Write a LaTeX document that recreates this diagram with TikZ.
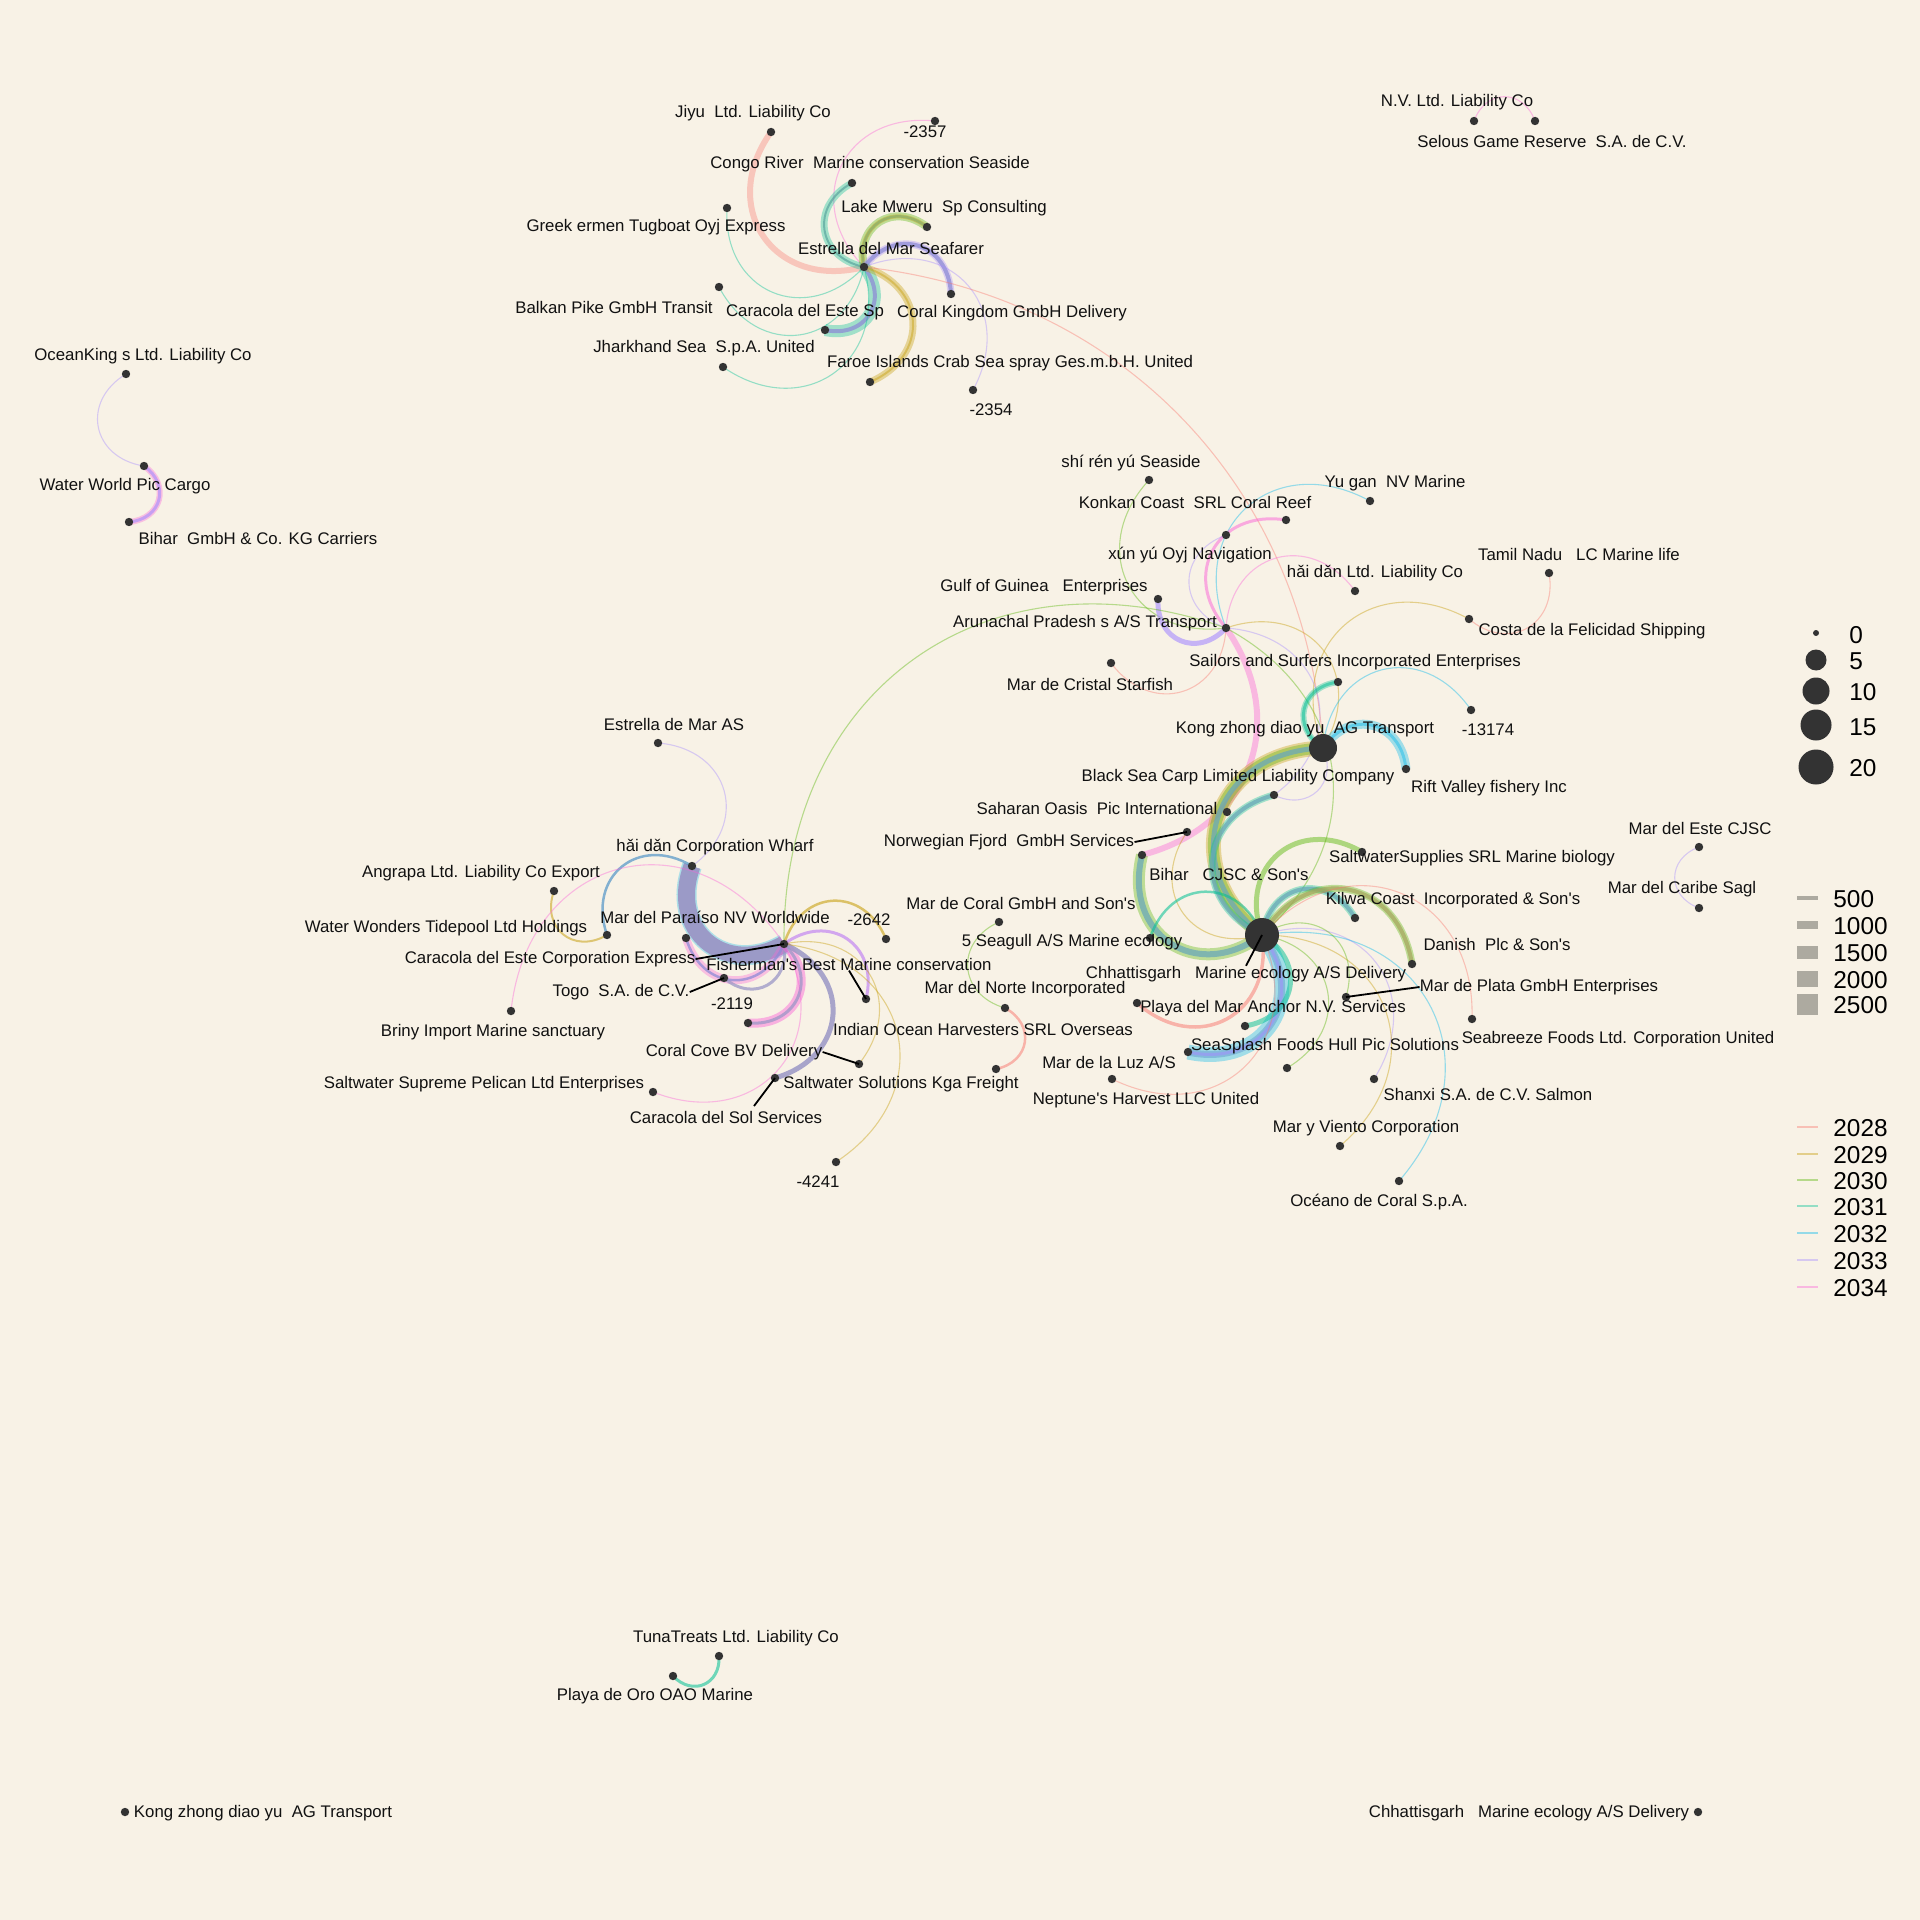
\documentclass[tikz,border=0pt]{standalone}
\usepackage{fontspec}
\newfontfamily\lbf{Liberation Sans}
\definecolor{bg}{HTML}{F8F2E6}
\definecolor{dotc}{HTML}{333333}
\definecolor{txt}{HTML}{111111}
\definecolor{c28}{HTML}{F8766D}
\definecolor{c29}{HTML}{C49A00}
\definecolor{c30}{HTML}{53B400}
\definecolor{c31}{HTML}{00C094}
\definecolor{c32}{HTML}{00B6EB}
\definecolor{c33}{HTML}{A58AFF}
\definecolor{c34}{HTML}{FB61D7}
\definecolor{wgrey}{HTML}{ADAAA0}
\definecolor{tealcore}{HTML}{5FA8A0}
\definecolor{purpcore}{HTML}{8E8CD6}
\definecolor{olivecore}{HTML}{A8A860}
\definecolor{greencore}{HTML}{8EAE6A}
\definecolor{bluecore}{HTML}{7AB0D8}
\definecolor{fishband}{HTML}{9B97C6}
\definecolor{tbcore}{HTML}{6AA8B8}
\begin{document}
\begin{tikzpicture}[x=0.5pt,y=-0.5pt,
  arcb/.style={bend left=70, looseness=1.45},
  arcs/.style={bend left=55, looseness=1.2},
  arcf/.style={bend left=40, looseness=1.0},
  th/.style={line width=0.55pt, draw opacity=0.4},
  halo/.style={line width=#1*0.5pt, draw opacity=0.35},
  core/.style={line width=#1*0.5pt, draw opacity=0.75},
  dotn/.style={circle, fill=dotc, inner sep=0pt, minimum size=4.2pt},
  lbl/.style={font=\lbf\fontsize{8.4}{10}\selectfont, text=txt, inner sep=0pt},
  leg/.style={font=\lbf\fontsize{12.2}{14}\selectfont, text=black, anchor=west, inner sep=0pt},
  leader/.style={draw=black, line width=0.9pt},
  legbar/.style={line width=0.75pt, draw opacity=0.4}]
\fill[bg] (0,0) rectangle (1920,1920);
\useasboundingbox (0,0) rectangle (1920,1920);
% ---------- coordinates ----------
\coordinate (Jiyu) at (771,132);
\coordinate (m2357) at (935,121);
\coordinate (Congo) at (852,183);
\coordinate (Greek) at (727,208);
\coordinate (Lake) at (927,227);
\coordinate (E) at (864,267);
\coordinate (CoralK) at (951,294);
\coordinate (Balkan) at (719,287);
\coordinate (CaraSp) at (825,330);
\coordinate (Jhar) at (723,367);
\coordinate (Faroe) at (870,382);
\coordinate (m2354) at (973,390);
\coordinate (Ocean) at (126,374);
\coordinate (WW) at (144,466);
\coordinate (BiharG) at (129,522);
\coordinate (NV) at (1474,121);
\coordinate (Selous) at (1535,121);
\coordinate (Tuna) at (719,1656);
\coordinate (PlayaOro) at (673,1676);
\coordinate (KongIso) at (125,1812);
\coordinate (ChhIso) at (1698,1812);
\coordinate (Shi) at (1149,480);
\coordinate (Yugan) at (1370,501);
\coordinate (Konkan) at (1286,520);
\coordinate (Xun) at (1226,535);
\coordinate (HaiLtd) at (1355,591);
\coordinate (Tamil) at (1549,573);
\coordinate (Gulf) at (1158,599);
\coordinate (A) at (1226,628);
\coordinate (Costa) at (1469,619);
\coordinate (Cristal) at (1111,663);
\coordinate (Sailors) at (1338,682);
\coordinate (m13174) at (1471,710);
\coordinate (K) at (1323,748);
\coordinate (Rift) at (1406,769);
\coordinate (BSC) at (1274,795);
\coordinate (Saharan) at (1227,812);
\coordinate (Norw) at (1187,832);
\coordinate (BiharC) at (1142,855);
\coordinate (SWS) at (1362,852);
\coordinate (Este) at (1699,847);
\coordinate (Caribe) at (1699,908);
\coordinate (Kilwa) at (1355,918);
\coordinate (MdCoral) at (999,922);
\coordinate (Seagull) at (1150,938);
\coordinate (M) at (1262,935);
\coordinate (Danish) at (1412,964);
\coordinate (Plata) at (1346,997);
\coordinate (MdNorte) at (1005,1008);
\coordinate (PlayaMar) at (1137,1003);
\coordinate (Seabreeze) at (1472,1019);
\coordinate (SeaSplash) at (1245,1026);
\coordinate (Luz) at (1188,1052);
\coordinate (Neptune) at (1112,1079);
\coordinate (D1287) at (1287,1068);
\coordinate (Shanxi) at (1374,1079);
\coordinate (Viento) at (1340,1146);
\coordinate (Oceano) at (1399,1181);
\coordinate (SWSol) at (996,1069);
\coordinate (EdM) at (658,743);
\coordinate (Wharf) at (692,866);
\coordinate (Angrapa) at (554,891);
\coordinate (WW2) at (607,935);
\coordinate (Paraiso) at (686,938);
\coordinate (m2642) at (886,939);
\coordinate (F) at (784,944);
\coordinate (Togo) at (724,978);
\coordinate (Fisher) at (866,999);
\coordinate (Briny) at (511,1011);
\coordinate (D2119) at (748,1023);
\coordinate (CoralCove) at (859,1064);
\coordinate (SSup) at (653,1092);
\coordinate (CdS) at (775,1078);
\coordinate (m4241) at (836,1162);
% ---------- edges: top cluster ----------
\draw[halo=6, draw=c28] (E) to[arcb] (Jiyu);
\draw[th, draw=c34] (E) to[arcb] (m2357);
\draw[halo=7, draw=c31] (E) to[arcb] (Congo);
\draw[core=2, draw=tealcore] (E) to[arcb] (Congo);
\draw[th, draw=c31] (E) to[arcb] (Greek);
\draw[halo=8, draw=c30] (E) to[arcb] (Lake);
\draw[halo=4, draw=c29] (E) to[arcb] (Lake);
\draw[core=2.5, draw=greencore] (E) to[arcb] (Lake);
\draw[halo=7, draw=c33] (E) to[arcb] (CoralK);
\draw[core=4, draw=purpcore] (E) to[arcb] (CoralK);
\draw[th, draw=c31] (E) to[arcb] (Balkan);
\draw[halo=12, draw=c31] (E) to[arcb] (CaraSp);
\draw[core=4, draw=purpcore] (E) to[arcb] (CaraSp);
\draw[th, draw=c31] (E) to[arcb] (Jhar);
\draw[halo=7, draw=c29] (E) to[arcb] (Faroe);
\draw[core=2, draw=c29, draw opacity=0.4] (E) to[arcb] (Faroe);
\draw[th, draw=c33] (E) to[arcb] (m2354);
\draw[th, draw=c28] (E) to[arcf] (K);
% ---------- isolated pairs ----------
\draw[th, draw=c33] (WW) to[arcb] (Ocean);
\draw[halo=6, draw=c34] (WW) to[arcb] (BiharG);
\draw[core=3, draw=c33, draw opacity=0.6] (WW) to[arcb] (BiharG);
\draw[th, draw=c34] (NV) to[arcb] (Selous);
\draw[core=3, draw=c31, draw opacity=0.55] (Tuna) to[arcb] (PlayaOro);
% ---------- Arunachal hub ----------
\draw[th, draw=c30] (A) to[arcb] (Shi);
\draw[th, draw=c32] (A) to[arcb] (Yugan);
\draw[halo=3, draw=c34, draw opacity=0.5] (A) to[arcb] (Konkan);
\draw[th, draw=c33] (A) to[arcb] (Xun);
\draw[th, draw=c34] (A) to[arcb] (HaiLtd);
\draw[halo=5, draw=c33, draw opacity=0.6] (A) to[arcb] (Gulf);
\draw[th, draw=c28] (A) to[arcb] (Cristal);
\draw[th, draw=c30] (F) to[arcs] (A);
\draw[halo=6, draw=c34, draw opacity=0.4] (A) to[arcs] (BiharC);
\draw[th, draw=c33] (A) to[arcb] (BSC);
\draw[th, draw=c30] (A) to[arcs] (M);
\draw[th, draw=c29] (A) to[arcb] (K);
\draw[th, draw=c28] (Tamil) to[arcb] (Costa);
\draw[th, draw=c29] (K) to[arcb] (Costa);
% ---------- Kong zhong hub ----------
\draw[halo=6, draw=c31] (K) to[arcb] (Sailors);
\draw[core=3, draw=c31, draw opacity=0.5] (K) to[arcb] (Sailors);
\draw[th, draw=c32] (K) to[arcb] (m13174);
\draw[halo=9, draw=c32] (K) to[arcb] (Rift);
\draw[core=3, draw=c32, draw opacity=0.4] (K) to[arcb] (Rift);
\draw[th, draw=c33] (K) to[arcb] (BSC);
\draw[halo=15, draw=c29] (M) to[arcb] (K);
\draw[halo=11, draw=c30] (M) to[arcb] (K);
\draw[core=5, draw=tbcore] (M) to[arcb] (K);
% ---------- Marine ecology hub ----------
\draw[halo=12, draw=c30] (M) to[arcb] (BiharC);
\draw[core=6, draw=tbcore] (M) to[arcb] (BiharC);
\draw[halo=7, draw=c31] (M) to[arcb] (BSC);
\draw[core=4, draw=tbcore] (M) to[arcb] (BSC);
\draw[halo=5, draw=c30, draw opacity=0.45] (M) to[arcb] (SWS);
\draw[halo=7, draw=c31] (M) to[arcb] (Kilwa);
\draw[core=4, draw=tbcore] (M) to[arcb] (Kilwa);
\draw[halo=7, draw=c30] (M) to[arcb] (Danish);
\draw[core=4, draw=olivecore] (M) to[arcb] (Danish);
\draw[th, draw=c30] (MdNorte) to[arcb] (MdCoral);
\draw[halo=2.5, draw=c28, draw opacity=0.5] (MdNorte) to[arcb] (SWSol);
\draw[halo=3.5, draw=c28, draw opacity=0.5] (M) to[arcb] (PlayaMar);
\draw[halo=15, draw=c32] (M) to[arcb] (Luz);
\draw[core=7, draw=bluecore] (M) to[arcb] (Luz);
\draw[core=3, draw=c33, draw opacity=0.5] (M) to[arcb] (Luz);
\draw[halo=5, draw=c31, draw opacity=0.5] (M) to[arcb] (SeaSplash);
\draw[th, draw=c30] (M) to[arcb] (D1287);
\draw[th, draw=c33] (M) to[arcb] (Shanxi);
\draw[th, draw=c29] (M) to[arcb] (Viento);
\draw[th, draw=c32] (M) to[arcb] (Oceano);
\draw[th, draw=c28] (M) to[arcb] (Seabreeze);
\draw[th, draw=c30] (M) to[arcb] (Plata);
\draw[th, draw=c28] (M) to[arcb] (Neptune);
\draw[th, draw=c29] (M) to[arcb] (Norw);
\draw[halo=2.5, draw=c31, draw opacity=0.55] (Seagull) to[arcb] (M);
\draw[th, draw=c33] (Caribe) to[arcb] (Este);
% ---------- left cluster ----------
\draw[halo=20, draw=c32, draw opacity=0.3] (F) to[arcb] (Wharf);
\draw[core=17, draw=fishband, draw opacity=0.95] (F) to[arcb] (Wharf);
\draw[th, draw=c33] (EdM) to[arcb] (Wharf);
\draw[core=2.5, draw=c32!60!c33!80!black, draw opacity=0.6] (WW2) to[arcb] (Wharf);
\draw[halo=2, draw=c29, draw opacity=0.5] (WW2) to[arcb] (Angrapa);
\draw[halo=8, draw=c34] (F) to[arcb] (Paraiso);
\draw[core=2.5, draw=purpcore] (F) to[arcb] (Paraiso);
\draw[core=3, draw=fishband] (F) to[arcb] (Togo);
\draw[halo=9, draw=c34, draw opacity=0.45] (F) to[arcb] (D2119);
\draw[core=3, draw=fishband] (F) to[arcb] (D2119);
\draw[core=5, draw=fishband, draw opacity=0.85] (F) to[arcb] (CdS);
\draw[core=3, draw=c33!70!c34, draw opacity=0.65] (F) to[arcb] (Fisher);
\draw[core=2.5, draw=c29, draw opacity=0.55] (F) to[arcb] (m2642);
\draw[th, draw=c29] (F) to[arcb] (CoralCove);
\draw[th, draw=c29] (F) to[arcb] (m4241);
\draw[th, draw=c34] (Briny) to[arcb] (F);
\draw[th, draw=c34] (F) to[arcb] (SSup);
\coordinate (cdsl) at (754,1106);
% ---------- dots ----------
\foreach \n in {Jiyu,m2357,Congo,Greek,Lake,E,CoralK,Balkan,CaraSp,Jhar,Faroe,m2354,
  Ocean,WW,BiharG,NV,Selous,Tuna,PlayaOro,KongIso,ChhIso,
  Shi,Yugan,Konkan,Xun,HaiLtd,Tamil,Gulf,A,Costa,Cristal,Sailors,m13174,Rift,BSC,Saharan,
  Norw,BiharC,SWS,Este,Caribe,Kilwa,MdCoral,Seagull,Danish,Plata,MdNorte,PlayaMar,
  Seabreeze,SeaSplash,Luz,Neptune,D1287,Shanxi,Viento,Oceano,SWSol,
  EdM,Wharf,Angrapa,WW2,Paraiso,m2642,F,Togo,Fisher,Briny,D2119,CoralCove,SSup,CdS,m4241}
  {\node[dotn] (\n-d) at (\n) {};}
\node[dotn, minimum size=14pt] (K-d) at (K) {};
\node[dotn, minimum size=17pt] (M-d) at (M) {};
% ---------- labels ----------
\node[lbl] (Jiyu-l) at (753,113) {Jiyu~~Ltd. Liability Co};
\node[lbl] (m2357-l) at (925,132) {-2357};
\node[lbl] (Congo-l) at (870,164) {Congo River~~Marine conservation Seaside};
\node[lbl] (Greek-l) at (656,227) {Greek ermen Tugboat Oyj Express};
\node[lbl] (Lake-l) at (944,208) {Lake Mweru~~Sp Consulting};
\node[lbl] (E-l) at (891,248) {Estrella del Mar Seafarer};
\node[lbl] (CoralK-l) at (1012,313) {Coral Kingdom GmbH Delivery};
\node[lbl] (Balkan-l) at (614,307) {Balkan Pike GmbH Transit};
\node[lbl] (CaraSp-l) at (805,312) {Caracola del Este Sp};
\node[lbl] (Jhar-l) at (704,348) {Jharkhand Sea~~S.p.A. United};
\node[lbl] (Faroe-l) at (1010,363) {Faroe Islands Crab Sea spray Ges.m.b.H. United};
\node[lbl] (m2354-l) at (991,410) {-2354};
\node[lbl] (Ocean-l) at (143,356) {OceanKing s Ltd. Liability Co};
\node[lbl] (WW-l) at (125,486) {Water World Pic Cargo};
\node[lbl] (BiharG-l) at (258,538) {Bihar~~GmbH \& Co. KG Carriers};
\node[lbl] (NV-l) at (1457,102) {N.V. Ltd. Liability Co};
\node[lbl] (Selous-l) at (1552,141) {Selous Game Reserve~~S.A. de C.V.};
\node[lbl] (Shi-l) at (1131,463) {shí rén yú Seaside};
\node[lbl] (Yugan-l) at (1395,483) {Yu gan~~NV Marine};
\node[lbl] (Konkan-l) at (1195,502) {Konkan Coast~~SRL Coral Reef};
\node[lbl] (Xun-l) at (1190,555) {xún yú Oyj Navigation};
\node[lbl] (HaiLtd-l) at (1375,573) {hǎi dǎn Ltd. Liability Co};
\node[lbl] (Tamil-l) at (1579,554) {Tamil Nadu~~~LC Marine life};
\node[lbl] (Gulf-l) at (1044,587) {Gulf of Guinea~~~Enterprises};
\node[lbl] (A-l) at (1085,623) {Arunachal Pradesh s A/S Transport};
\node[lbl] (Costa-l) at (1592,631) {Costa de la Felicidad Shipping};
\node[lbl] (Cristal-l) at (1090,684) {Mar de Cristal Starfish};
\node[lbl] (Sailors-l) at (1355,662) {Sailors and Surfers Incorporated Enterprises};
\node[lbl] (m13174-l) at (1488,730) {-13174};
\node[lbl] (K-l) at (1305,729) {Kong zhong diao yu~~AG Transport};
\node[lbl] (Rift-l) at (1489,788) {Rift Valley fishery Inc};
\node[lbl] (BSC-l) at (1238,777) {Black Sea Carp Limited Liability Company};
\node[lbl] (Saharan-l) at (1097,808) {Saharan Oasis~~Pic International};
\node[lbl] (Norw-l) at (1009,842) {Norwegian Fjord~~GmbH Services};
\node[lbl] (BiharC-l) at (1229,874) {Bihar~~~CJSC \& Son's};
\node[lbl] (SWS-l) at (1472,858) {SaltwaterSupplies SRL Marine biology};
\node[lbl] (Este-l) at (1700,828) {Mar del Este CJSC};
\node[lbl] (Caribe-l) at (1682,889) {Mar del Caribe Sagl};
\node[lbl] (Kilwa-l) at (1453,900) {Kilwa Coast~~Incorporated \& Son's};
\node[lbl] (MdCoral-l) at (1021,903) {Mar de Coral GmbH and Son's};
\node[lbl] (Seagull-l) at (1072,942) {5 Seagull A/S Marine ecology};
\node[lbl] (Danish-l) at (1497,944) {Danish~~Plc \& Son's};
\node[lbl] (M-l) at (1246,974) {Chhattisgarh~~~Marine ecology A/S Delivery};
\node[lbl] (Plata-l) at (1539,987) {Mar de Plata GmbH Enterprises};
\node[lbl] (MdNorte-l) at (1025,989) {Mar del Norte Incorporated};
\node[lbl] (PlayaMar-l) at (1273,1008) {Playa del Mar Anchor N.V. Services};
\node[lbl] (Seabreeze-l) at (1618,1039) {Seabreeze Foods Ltd. Corporation United};
\node[lbl] (Indian-l) at (983,1029) {Indian Ocean Harvesters SRL Overseas};
\node[lbl] (SeaSplash-l) at (1325,1046) {SeaSplash Foods Hull Pic Solutions};
\node[lbl] (Luz-l) at (1109,1062) {Mar de la Luz A/S};
\node[lbl] (Neptune-l) at (1146,1100) {Neptune's Harvest LLC United};
\node[lbl] (Shanxi-l) at (1488,1094) {Shanxi S.A. de C.V. Salmon};
\node[lbl] (Viento-l) at (1366,1128) {Mar y Viento Corporation};
\node[lbl] (Oceano-l) at (1379,1202) {Océano de Coral S.p.A.};
\node[lbl] (EdM-l) at (674,724) {Estrella de Mar AS};
\node[lbl] (Wharf-l) at (715,847) {hǎi dǎn Corporation Wharf};
\node[lbl] (Angrapa-l) at (481,873) {Angrapa Ltd. Liability Co Export};
\node[lbl] (WW2-l) at (446,928) {Water Wonders Tidepool Ltd Holdings};
\node[lbl] (Paraiso-l) at (715,917) {Mar del Paraíso NV Worldwide};
\node[lbl] (m2642-l) at (869,920) {-2642};
\node[lbl] (F-l) at (550,959) {Caracola del Este Corporation Express};
\node[lbl] (Fisher-l) at (849,964) {Fisherman's Best Marine conservation};
\node[lbl] (Togo-l) at (621,992) {Togo~~S.A. de C.V.};
\node[lbl] (D2119-l) at (732,1004) {-2119};
\node[lbl] (Briny-l) at (493,1032) {Briny Import Marine sanctuary};
\node[lbl] (CoralCove-l) at (734,1052) {Coral Cove BV Delivery};
\node[lbl] (SSup-l) at (484,1084) {Saltwater Supreme Pelican Ltd Enterprises};
\node[lbl] (SWSol-l) at (901,1084) {Saltwater Solutions Kga Freight};
\node[lbl] (CdS-l) at (726,1117) {Caracola del Sol Services};
\node[lbl] (m4241-l) at (818,1182) {-4241};
\node[lbl] (Tuna-l) at (736,1638) {TunaTreats Ltd. Liability Co};
\node[lbl] (PlayaOro-l) at (655,1696) {Playa de Oro OAO Marine};
\node[lbl] (KongIso-l) at (263,1813) {Kong zhong diao yu~~AG Transport};
\node[lbl] (ChhIso-l) at (1529,1813) {Chhattisgarh~~~Marine ecology A/S Delivery};
% leaders
\draw[leader] (F-l.east) -- (F);
\draw[leader] (Togo-l.east) -- (Togo);
\draw[leader] (Fisher-l.south) -- (Fisher);
\draw[leader] (CoralCove-l.east) -- (CoralCove);
\draw[leader] (cdsl) -- (CdS);
\draw[leader] (Norw-l.east) -- (Norw);
\draw[leader] (M-l.north) -- (M);
\draw[leader] (Plata-l.west) -- (Plata);
% ---------- legend ----------
\node[dotn, minimum size=3pt] (ls0) at (1816,633) {};
\node[dotn, minimum size=10.5pt] (ls5) at (1816,660) {};
\node[dotn, minimum size=13.5pt] (ls10) at (1816,691) {};
\node[dotn, minimum size=15.5pt] (ls15) at (1816,725) {};
\node[dotn, minimum size=17.5pt] (ls20) at (1816,767) {};
\node[leg] (lt0) at (1849,635) {0};
\node[leg] (lt5) at (1849,661) {5};
\node[leg] (lt10) at (1849,692) {10};
\node[leg] (lt15) at (1849,727) {15};
\node[leg] (lt20) at (1849,768) {20};
\coordinate (wa1) at (1797,898); \coordinate (wb1) at (1818,898);
\coordinate (wa2) at (1797,925); \coordinate (wb2) at (1818,925);
\coordinate (wa3) at (1797,952); \coordinate (wb3) at (1818,952);
\coordinate (wa4) at (1797,979); \coordinate (wb4) at (1818,979);
\coordinate (wa5) at (1797,1004); \coordinate (wb5) at (1818,1004);
\draw[wgrey, line width=1.75pt] (wa1) -- (wb1);
\draw[wgrey, line width=3.75pt] (wa2) -- (wb2);
\draw[wgrey, line width=6.5pt] (wa3) -- (wb3);
\draw[wgrey, line width=8.25pt] (wa4) -- (wb4);
\draw[wgrey, line width=10.5pt] (wa5) -- (wb5);
\node[leg] (lw1) at (1833,899) {500};
\node[leg] (lw2) at (1833,926) {1000};
\node[leg] (lw3) at (1833,953) {1500};
\node[leg] (lw4) at (1833,980) {2000};
\node[leg] (lw5) at (1833,1005) {2500};
\foreach \yr/\yy in {28/1127,29/1154,30/1180,31/1206,32/1233,33/1260,34/1287}{
  \coordinate (ca\yr) at (1797,\yy);
  \coordinate (cb\yr) at (1818,\yy);
  \draw[legbar, draw=c\yr] (ca\yr) -- (cb\yr);
  \node[leg] (lc\yr) at (1833,\yy+1) {20\yr};
}
\end{tikzpicture}
\end{document}
